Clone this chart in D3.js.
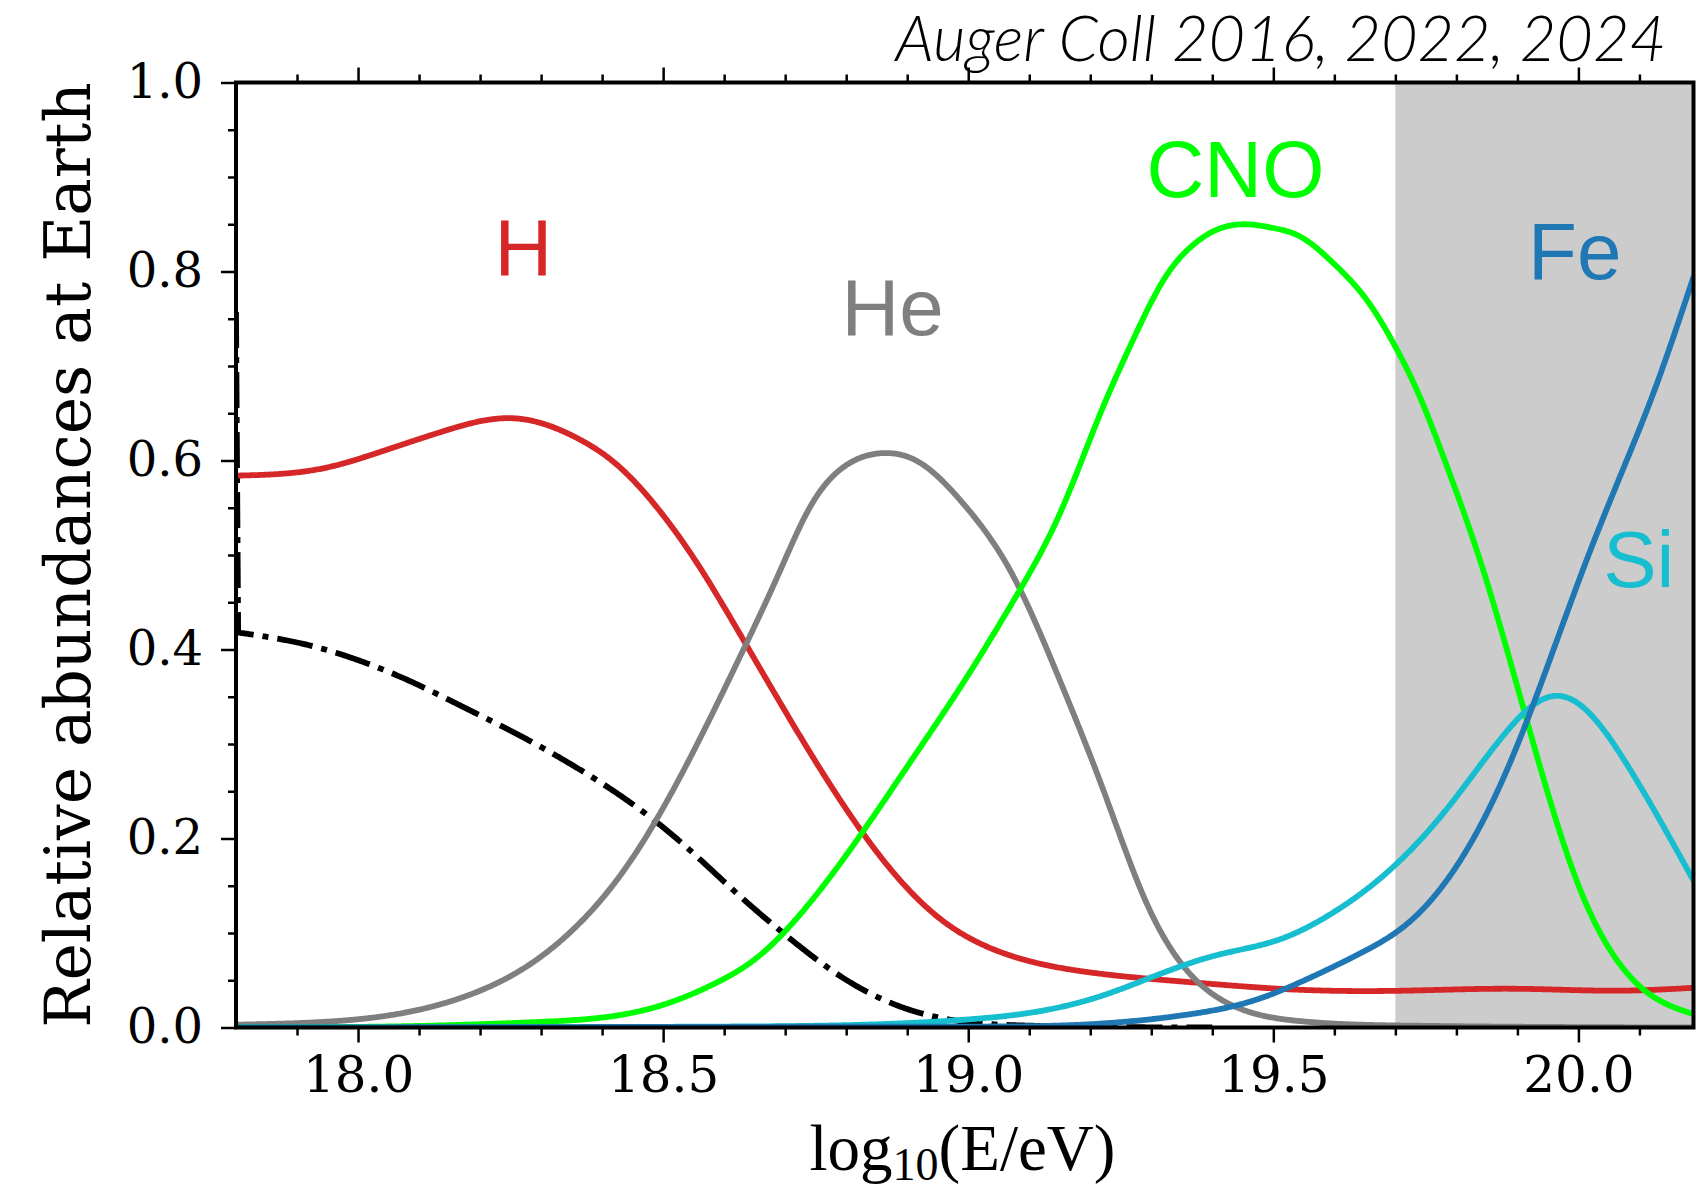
<!DOCTYPE html>
<html>
<head>
<meta charset="utf-8">
<script src="https://cdn.jsdelivr.net/npm/d3@7"></script>
<style>
  html, body { margin: 0; padding: 0; background: #ffffff; }
  svg { display: block; }
</style>
</head>
<body>
<svg id="chart" width="1696" height="1191"></svg>
<script>
// ---- data: relative abundances at Earth vs log10(E/eV) ----
const xDomain = [17.8, 20.1886];
const yDomain = [0, 1];
const xMajorTicks = [18.0, 18.5, 19.0, 19.5, 20.0];
const yMajorTicks = [0.0, 0.2, 0.4, 0.6, 0.8, 1.0];
const shadedFrom = 19.7;

const hydrogen = [
  [17.8, 0.584], [17.945, 0.592], [18.036, 0.609], [18.145, 0.632], [18.254, 0.6447],
  [18.364, 0.622], [18.418, 0.599], [18.489, 0.551], [18.560, 0.487], [18.619, 0.424],
  [18.708, 0.326], [18.796, 0.235], [18.867, 0.172], [18.956, 0.114], [19.044, 0.082],
  [19.186, 0.0595], [19.363, 0.048], [19.540, 0.040], [19.718, 0.039], [19.895, 0.041],
  [20.072, 0.039], [20.189, 0.042]
];
const helium = [
  [17.8, 0.003], [17.945, 0.006], [18.087, 0.017], [18.176, 0.033], [18.265, 0.060],
  [18.353, 0.104], [18.442, 0.172], [18.531, 0.269], [18.619, 0.383], [18.690, 0.481],
  [18.741, 0.551], [18.800, 0.595], [18.855, 0.6076], [18.920, 0.598], [18.991, 0.555],
  [19.071, 0.481], [19.151, 0.366], [19.221, 0.252], [19.292, 0.132], [19.363, 0.057],
  [19.434, 0.023], [19.540, 0.007], [19.718, 0.002], [20.189, 0.000]
];
const cno = [
  [17.8, 0.000], [18.123, 0.002], [18.300, 0.006], [18.406, 0.011], [18.495, 0.023],
  [18.583, 0.046], [18.654, 0.074], [18.725, 0.120], [18.814, 0.195], [18.902, 0.278],
  [18.991, 0.364], [19.080, 0.458], [19.151, 0.545], [19.216, 0.649], [19.270, 0.7275],
  [19.325, 0.796], [19.363, 0.825], [19.400, 0.842], [19.451, 0.850], [19.500, 0.846],
  [19.544, 0.837], [19.598, 0.809], [19.653, 0.770], [19.697, 0.724], [19.740, 0.6675],
  [19.781, 0.600], [19.842, 0.488], [19.895, 0.372], [19.948, 0.252], [20.001, 0.149],
  [20.054, 0.080], [20.107, 0.040], [20.189, 0.014]
];
const silicon = [
  [17.8, 0.000], [18.6, 0.001], [18.831, 0.003], [19.009, 0.009], [19.115, 0.017],
  [19.221, 0.034], [19.328, 0.060], [19.416, 0.078], [19.505, 0.092], [19.594, 0.120],
  [19.700, 0.172], [19.789, 0.235], [19.877, 0.309], [19.930, 0.343], [19.966, 0.351],
  [20.019, 0.332], [20.072, 0.286], [20.125, 0.229], [20.189, 0.155]
];
const iron = [
  [17.8, 0.000], [19.0, 0.001], [19.186, 0.003], [19.363, 0.014], [19.470, 0.029],
  [19.558, 0.052], [19.647, 0.080], [19.718, 0.109], [19.789, 0.160], [19.860, 0.240],
  [19.913, 0.320], [19.966, 0.412], [20.019, 0.504], [20.072, 0.589], [20.125, 0.675],
  [20.189, 0.795]
];
// dash-dot total: steep drop right at the low-energy edge, then a smooth decline
const protonEdge = [17.8, 0.757];
const protonTotal = [
  [17.8035, 0.418], [17.910, 0.406], [17.999, 0.389], [18.087, 0.366],
  [18.176, 0.338], [18.265, 0.309], [18.353, 0.277], [18.442, 0.240], [18.531, 0.195],
  [18.619, 0.143], [18.708, 0.094], [18.796, 0.052], [18.885, 0.023], [18.973, 0.008],
  [19.097, 0.002], [19.40, 0.000]
];

const elementNames = ["H", "He", "CNO", "Si", "Fe"];
const elementColors = ["#d62728", "#7f7f7f", "#00ff00", "#17becf", "#1f77b4"];
const elementLabelX = [18.271, 18.876, 19.438, 20.099, 19.994];
const elementLabelY = [0.796, 0.7325, 0.879, 0.466, 0.792];

// ---- natural cubic spline y(x) through the tabulated points, for smooth strokes ----
function splineSamples(pts, step) {
  const n = pts.length;
  const xs = pts.map(p => p[0]), ys = pts.map(p => p[1]);
  const h = d3.range(n - 1).map(i => xs[i + 1] - xs[i]);
  const M = new Array(n).fill(0);
  if (n > 2) {
    const a = [], b = [], c = [], r = [];
    for (let i = 1; i < n - 1; i++) {
      a.push(h[i - 1]); b.push(2 * (h[i - 1] + h[i])); c.push(h[i]);
      r.push(6 * ((ys[i + 1] - ys[i]) / h[i] - (ys[i] - ys[i - 1]) / h[i - 1]));
    }
    const m = b.length;
    for (let i = 1; i < m; i++) {
      const w = a[i] / b[i - 1];
      b[i] -= w * c[i - 1];
      r[i] -= w * r[i - 1];
    }
    const sol = new Array(m);
    sol[m - 1] = r[m - 1] / b[m - 1];
    for (let i = m - 2; i >= 0; i--) sol[i] = (r[i] - c[i] * sol[i + 1]) / b[i];
    for (let i = 0; i < m; i++) M[i + 1] = sol[i];
  }
  const out = [];
  for (let i = 0; i < n - 1; i++) {
    const k = Math.max(1, Math.ceil(h[i] / step));
    for (let j = 0; j < k; j++) {
      const t = xs[i] + h[i] * j / k;
      const A = (xs[i + 1] - t) / h[i], B = (t - xs[i]) / h[i];
      const v = A * ys[i] + B * ys[i + 1] +
        ((A * A * A - A) * M[i] + (B * B * B - B) * M[i + 1]) * h[i] * h[i] / 6;
      out.push([t, v]);
    }
  }
  out.push(pts[n - 1]);
  return out;
}

// ---- layout ----
const plotLeft = 236, plotRight = 1693.5, plotTop = 82.5, plotBottom = 1027.5;
const svg = d3.select("#chart");
const x = d3.scaleLinear().domain(xDomain).range([plotLeft, plotRight]);
const y = d3.scaleLinear().domain(yDomain).range([plotBottom, plotTop]);

svg.append("defs").append("clipPath").attr("id", "plot-clip")
  .append("rect").attr("x", plotLeft).attr("y", plotTop)
  .attr("width", plotRight - plotLeft).attr("height", plotBottom - plotTop);

// shaded high-energy band
svg.append("rect")
  .attr("x", x(shadedFrom)).attr("y", y(1))
  .attr("width", x(xDomain[1]) - x(shadedFrom)).attr("height", y(0) - y(1))
  .attr("fill", "#cccccc");

const line = d3.line().x(d => x(d[0])).y(d => y(d[1]));
const plot = svg.append("g").attr("clip-path", "url(#plot-clip)");

// the edge drop is a straight segment joined onto the smooth curve
plot.append("path")
  .datum([protonEdge].concat(splineSamples(protonTotal, 0.002)))
  .attr("d", line).attr("fill", "none").attr("stroke", "#000")
  .attr("stroke-width", 5.8).attr("stroke-dasharray", "36,9,6,9");

const series = [hydrogen, helium, cno, silicon, iron];
series.forEach((s, i) => {
  plot.append("path").datum(splineSamples(s, 0.002))
    .attr("d", line).attr("fill", "none")
    .attr("stroke", elementColors[i]).attr("stroke-width", 5.8)
    .attr("stroke-linejoin", "round");
});

// element labels
elementNames.forEach((name, i) => {
  svg.append("text")
    .attr("x", x(elementLabelX[i])).attr("y", y(elementLabelY[i]))
    .attr("text-anchor", "middle")
    .attr("font-family", "'Liberation Sans', Arial, sans-serif")
    .attr("font-size", 80)
    .attr("fill", elementColors[i])
    .text(name);
});

// ---- axes ----
const xMinor = d3.range(17.9, 20.15, 0.1).map(v => +v.toFixed(2))
  .filter(v => !xMajorTicks.some(m => Math.abs(m - v) < 1e-6));
const yMinor = d3.range(0.05, 1.0, 0.05).map(v => +v.toFixed(2))
  .filter(v => !yMajorTicks.some(m => Math.abs(m - v) < 1e-6));

function styleAxis(g) {
  g.select(".domain").remove();
  g.selectAll(".tick line").attr("stroke", "#000").attr("stroke-width", 2.5);
}

svg.append("g").attr("transform", `translate(0,${plotBottom})`)
  .call(d3.axisBottom(x).tickValues(xMinor).tickSize(8).tickFormat(""))
  .call(styleAxis);
svg.append("g").attr("transform", `translate(0,${plotBottom})`)
  .call(d3.axisBottom(x).tickValues(xMajorTicks).tickSize(15).tickPadding(14)
    .tickFormat(d3.format(".1f")))
  .call(styleAxis)
  .call(g => g.selectAll("text")
    .attr("font-family", "'DejaVu Serif', serif").attr("font-size", 50).attr("fill", "#000"));

svg.append("g").attr("transform", `translate(0,${plotTop})`)
  .call(d3.axisTop(x).tickValues(xMinor).tickSize(8).tickFormat(""))
  .call(styleAxis);
svg.append("g").attr("transform", `translate(0,${plotTop})`)
  .call(d3.axisTop(x).tickValues(xMajorTicks).tickSize(15).tickFormat(""))
  .call(styleAxis);

svg.append("g").attr("transform", `translate(${plotLeft},0)`)
  .call(d3.axisLeft(y).tickValues(yMinor).tickSize(8).tickFormat(""))
  .call(styleAxis);
svg.append("g").attr("transform", `translate(${plotLeft},0)`)
  .call(d3.axisLeft(y).tickValues(yMajorTicks).tickSize(15).tickPadding(18)
    .tickFormat(d3.format(".1f")))
  .call(styleAxis)
  .call(g => g.selectAll("text")
    .attr("font-family", "'DejaVu Serif', serif").attr("font-size", 48).attr("fill", "#000"));

// frame
svg.append("rect")
  .attr("x", plotLeft).attr("y", plotTop)
  .attr("width", plotRight - plotLeft).attr("height", plotBottom - plotTop)
  .attr("fill", "none").attr("stroke", "#000").attr("stroke-width", 4);

// axis titles
svg.append("text")
  .attr("transform", `translate(89.5,555) rotate(-90)`)
  .attr("text-anchor", "middle")
  .attr("font-family", "'DejaVu Serif', serif")
  .attr("font-size", 63)
  .attr("fill", "#000")
  .text("Relative abundances at Earth");

const xl = svg.append("text")
  .attr("x", 962.5).attr("y", 1170)
  .attr("text-anchor", "middle")
  .attr("font-family", "'Liberation Serif', 'Times New Roman', serif")
  .attr("font-size", 65)
  .attr("fill", "#000");
xl.append("tspan").text("log");
xl.append("tspan").attr("font-size", 46).attr("dy", 10).text("10");
xl.append("tspan").attr("dy", -10).text("(E/eV)");

// reference note
svg.append("text")
  .attr("x", 1666).attr("y", 61)
  .attr("text-anchor", "end")
  .attr("font-family", "Lato, sans-serif")
  .attr("font-weight", 300)
  .attr("font-style", "italic")
  .attr("font-size", 63)
  .attr("fill", "#000")
  .text("Auger Coll 2016, 2022, 2024");
</script>
</body>
</html>
